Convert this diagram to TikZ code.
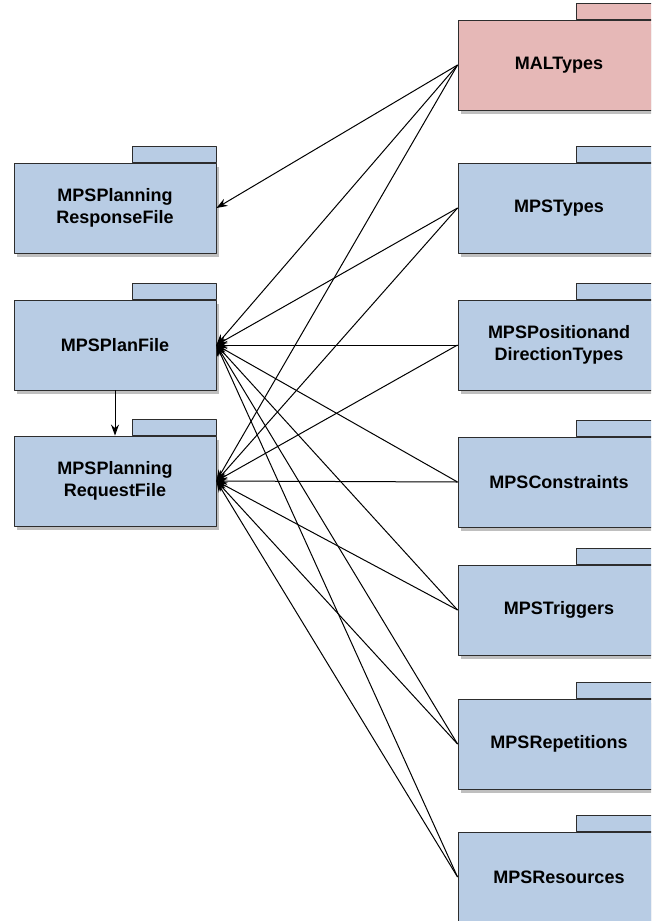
\documentclass[tikz,border=0pt]{standalone}
\usepackage{fontspec}
\setmainfont{Liberation Sans}
\usetikzlibrary{shadows,arrows.meta}
\definecolor{pkgblue}{RGB}{184,204,228}
\definecolor{pkgred}{RGB}{230,184,183}
\definecolor{pkgline}{RGB}{45,45,45}
\tikzset{
	pkg/.style={draw=pkgline,fill=pkgblue,line width=0.9pt,minimum width=202pt,minimum height=90pt,
		align=center,font=\bfseries\fontsize{18}{21.5}\selectfont,
		drop shadow={shadow xshift=3pt,shadow yshift=-3.5pt,opacity=0.5}},
	pkgtab/.style={draw=pkgline,line width=0.9pt},
	dep/.style={->,line width=1pt,color=black}
}
\begin{document}
\begin{tikzpicture}[x=1pt,y=-1pt,line join=round,>={Stealth[length=11pt,width=8pt]}]
	\useasboundingbox (0,0) rectangle (651,921);
	\clip (0,0) rectangle (651,921);
	% left packages
	\node[pkg] (resp) at (115,208) {MPSPlanning\\ResponseFile};
	\node[pkg] (plan) at (115,345) {MPSPlanFile};
	\node[pkg] (req) at (115,481) {MPSPlanning\\RequestFile};
	% right packages
	\node[pkg,fill=pkgred] (mal) at (559,65) {MALTypes};
	\node[pkg] (types) at (559,208) {MPSTypes};
	\node[pkg] (posdir) at (559,345) {MPSPositionand\\DirectionTypes};
	\node[pkg] (cons) at (559,482) {MPSConstraints};
	\node[pkg] (trig) at (559,610) {MPSTriggers};
	\node[pkg] (rep) at (559,744) {MPSRepetitions};
	\node[pkg] (res) at (559,877) {MPSResources};
	% tabs
	\foreach \n in {resp,plan,req,types,posdir,cons,trig,rep,res}
		\draw[pkgtab,fill=pkgblue] ([xshift=-84pt]\n.north east) rectangle ([yshift=16pt]\n.north east);
	\draw[pkgtab,fill=pkgred] ([xshift=-84pt]mal.north east) rectangle ([yshift=16pt]mal.north east);
	% dependencies
	\draw[dep] (mal.west) -- (resp.east);
	\foreach \s in {mal,types,posdir,cons,trig,rep,res}
		\foreach \t in {plan,req}
			\draw[dep] (\s.west) -- (\t.east);
	\draw[dep] (plan.south) -- (req.north);
\end{tikzpicture}
\end{document}
